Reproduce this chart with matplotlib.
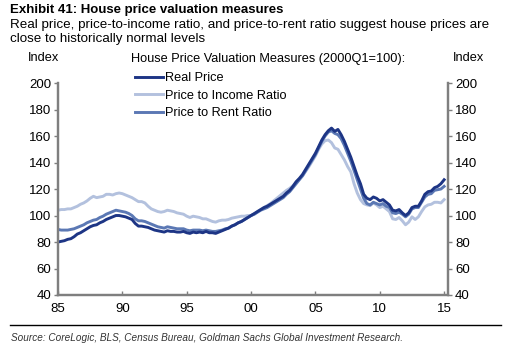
import numpy as np
import matplotlib.pyplot as plt

plt.rcParams['font.family'] = ['Liberation Sans', 'DejaVu Sans']

# quarterly, 1985Q1 .. 2015Q1 (2000Q1=100)
real_price = [80, 80.5, 81, 82, 82.5, 84, 86, 87, 88.5, 90, 91.5, 92.5,
              93, 94.5, 95.5, 97, 98, 99, 100, 100, 99.5, 99, 98, 97,
              94, 92, 92, 91.5, 91, 90, 89, 88.5, 88, 87.5, 88.5, 88,
              88, 87.5, 87.5, 88, 87, 86.5, 87.5, 87, 87.5, 87, 88, 87,
              87, 86.5, 87.5, 88.5, 89.5, 90.5, 92, 93, 94.5, 95.5, 97, 98.5,
              100, 101.5, 103, 104.5, 106, 107, 108.5, 110, 111.5, 113, 114.5, 117,
              119, 122, 125.5, 128, 131, 135, 139, 143, 147, 152, 157, 161,
              164, 166, 163.5, 165, 161, 156, 150, 144, 137, 130, 124, 116,
              113, 112, 114, 113, 111, 112, 110, 108, 104, 103.5, 104.5, 102,
              100, 102, 106, 107, 107, 111, 116, 118, 118.5, 121, 122, 124,
              127]
price_income = [104, 104.5, 104.5, 105, 105, 106, 107, 108.5, 109.5, 111, 113, 114.5,
                113.5, 114, 114.5, 116, 116, 115.5, 116.5, 117, 116.5, 115.5, 114.5, 113.5,
                112, 110.5, 110.5, 109.5, 107, 105, 104, 103, 102.5, 103, 104, 103.5,
                103, 102, 101.5, 101, 99.5, 98.5, 99.5, 99, 98.5, 97.5, 97.5, 96.5,
                95.5, 95, 96, 96.5, 96.5, 97, 98, 98.5, 99, 99.5, 99.5, 100,
                100, 101, 103, 104.5, 106, 107.5, 109, 111, 113, 115, 117, 119,
                120.5, 122.5, 125, 127.5, 130, 133.5, 137, 141, 145, 150, 154, 156.5,
                157, 155, 151, 150, 146, 142, 137, 133, 124, 117, 112, 109,
                108, 107.5, 109.5, 108, 106, 107, 105, 103, 97.5, 97, 98.5, 96,
                93, 95, 99, 97, 99, 103, 106.5, 108, 108.5, 110, 110, 109.5,
                112]
price_rent = [89.5, 89, 89, 89, 89.5, 90, 91, 92, 93, 94.5, 95.5, 96.5,
              97, 98.5, 99.5, 101, 102, 103, 104, 103.5, 103, 102.5, 101.5, 100,
              97.5, 96, 96, 95.5, 94.5, 93.5, 92.5, 91.5, 91, 90.5, 91.5, 91,
              90.5, 90, 90, 90, 89, 88.5, 89, 89, 89, 88.5, 89, 88.5,
              88, 88, 88.5, 89, 90, 90.5, 92, 93, 94.5, 95.5, 97, 98.5,
              100, 101, 102.5, 104, 105, 106, 107.5, 109, 110.5, 112, 113.5, 116,
              118, 121, 124, 127, 130, 134, 138, 142, 146, 151, 156, 160,
              163, 164, 162, 161, 158, 153, 147, 141, 134, 127, 120, 113,
              109, 108, 110, 109, 108, 109, 107, 106, 102, 101.5, 102.5, 101,
              99, 101, 105, 106, 106, 110, 114, 116, 116.5, 119, 119.5, 120,
              122]

years = 1985 + np.arange(len(real_price)) / 4
xticks = [1985, 1990, 1995, 2000, 2005, 2010, 2015]
xlabels = ['85', '90', '95', '00', '05', '10', '15']
yticks = [40, 60, 80, 100, 120, 140, 160, 180, 200]

c_dark = '#1d3585'
c_mid = '#5b78b4'
c_light = '#b3c1de'
grey = '#7f7f7f'

fig = plt.figure(figsize=(5.11, 3.58), dpi=100)
ax = fig.add_axes([0.1135, 0.176, 0.7632, 0.592])

ax.plot(years, price_income, color=c_light, lw=2.1, label='Price to Income Ratio', zorder=2)
ax.plot(years, price_rent, color=c_mid, lw=2.1, label='Price to Rent Ratio', zorder=3)
ax.plot(years, real_price, color=c_dark, lw=2.1, label='Real Price', zorder=4)

ax.set_xlim(1985, 2015.3)
ax.set_ylim(40, 200)
ax.set_yticks(yticks)
ax.set_xticks(xticks)
ax.set_xticklabels(xlabels)

ax2 = ax.twinx()
ax2.set_ylim(40, 200)
ax2.set_yticks(yticks)

for a in (ax, ax2):
    a.spines['top'].set_visible(False)
    for s in ('left', 'right', 'bottom'):
        a.spines[s].set_color(grey)
        a.spines[s].set_linewidth(1.6)
    a.tick_params(axis='y', direction='out', length=3, width=1, color=grey,
                  labelsize=9.5, pad=2)
ax.tick_params(axis='x', direction='in', length=3, width=1, color=grey,
               labelsize=9.5, pad=6)

h, l = ax.get_legend_handles_labels()
order = [2, 0, 1]
leg = ax.legend([h[i] for i in order], [l[i] for i in order],
                loc='upper left', bbox_to_anchor=(0.185, 1.075), frameon=False,
                fontsize=9.2, handlelength=2.2, handletextpad=0.15,
                labelspacing=0.42, borderaxespad=0)

fig.text(0.055, 0.838, 'Index', fontsize=9.2, va='center')
fig.text(0.887, 0.838, 'Index', fontsize=9.2, va='center')
fig.text(0.256, 0.835, 'House Price Valuation Measures (2000Q1=100):',
         fontsize=9.2, va='center')

fig.text(0.02, 0.99, 'Exhibit 41: House price valuation measures',
         fontsize=9.5, fontweight='bold', va='top')
fig.text(0.02, 0.948, 'Real price, price-to-income ratio, and price-to-rent ratio suggest house prices are\n'
         'close to historically normal levels', fontsize=9.6, va='top', linespacing=1.22)

fig.add_artist(plt.Line2D([0.02, 0.98], [0.092, 0.092], color='black', lw=1.0))
fig.text(0.022, 0.055, 'Source: CoreLogic, BLS, Census Bureau, Goldman Sachs Global Investment Research.',
         fontsize=7.2, style='italic', color='#333333', va='center')

fig.savefig('out.png', dpi=100)
